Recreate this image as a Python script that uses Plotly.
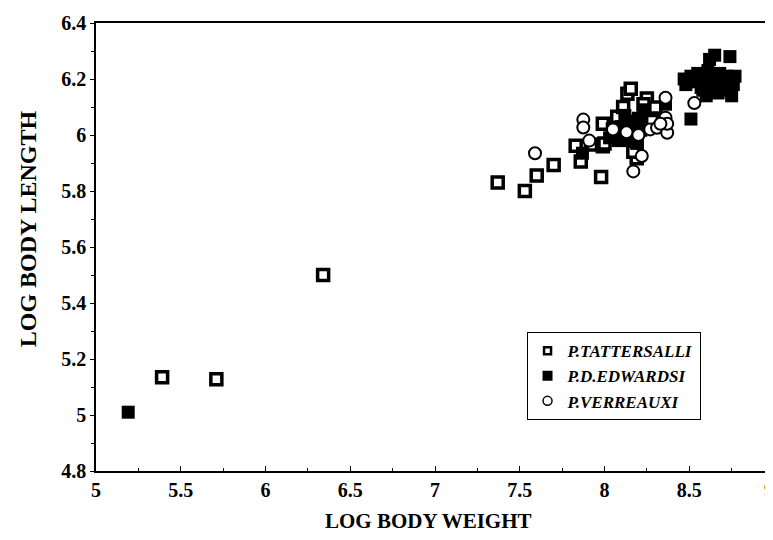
import plotly.graph_objects as go

# P. tattersalli (open squares)
tatt_x = [5.39, 5.71, 6.34, 7.37, 7.53, 7.60, 7.70, 7.83, 7.86, 7.92, 7.99, 7.99, 7.98,
          8.00, 8.075, 8.11, 8.135, 8.155, 8.19, 8.19, 8.21, 8.25, 8.30, 8.23, 8.17, 8.28,
          8.05, 8.10]
tatt_y = [5.135, 5.128, 5.50, 5.83, 5.80, 5.855, 5.893, 5.962, 5.905, 5.966, 5.96, 6.04, 5.85,
          5.97, 6.065, 6.10, 6.147, 6.165, 5.917, 5.96, 6.02, 6.13, 6.098, 6.11, 5.94, 6.05,
          6.02, 5.99]

# P. d. edwardsi (filled squares)
edw_x = [5.19, 7.87, 8.03, 8.06, 8.08, 8.10, 8.12, 8.14, 8.15, 8.17, 8.19, 8.20, 8.22,
         8.23, 8.12, 8.36, 8.51,
         8.47, 8.48, 8.51, 8.53, 8.55, 8.57, 8.59, 8.60, 8.61, 8.62, 8.63, 8.64, 8.65,
         8.66, 8.67, 8.68, 8.70, 8.71, 8.72, 8.74, 8.75, 8.76, 8.77, 8.58]
edw_y = [5.01, 5.935, 5.99, 6.01, 5.98, 6.03, 6.00, 6.05, 5.98, 6.02, 5.97, 6.06, 6.04,
         6.09, 6.07, 6.11, 6.057,
         6.20, 6.18, 6.21, 6.19, 6.22, 6.17, 6.20, 6.14, 6.23, 6.27, 6.16, 6.20, 6.285,
         6.18, 6.15, 6.22, 6.19, 6.16, 6.21, 6.28, 6.14, 6.18, 6.21, 6.16]

# P. verreauxi (open circles)
ver_x = [7.59, 7.875, 7.875, 7.91, 8.17, 8.22, 8.27, 8.31, 8.36, 8.37, 8.37, 8.36, 8.53,
         8.05, 8.13, 8.33, 8.20]
ver_y = [5.935, 6.055, 6.027, 5.98, 5.87, 5.925, 6.02, 6.026, 6.062, 6.008, 6.04, 6.133, 6.114,
         6.02, 6.01, 6.04, 6.0]

series_names = ["P.TATTERSALLI", "P.D.EDWARDSI", "P.VERREAUXI"]

x_ticks = [5, 5.5, 6, 6.5, 7, 7.5, 8, 8.5, 9]
x_ticktext = ["5", "5.5", "6", "6.5", "7", "7.5", "8", "8.5", "9\u00a0\u00a0"]
y_ticks = [4.8, 5, 5.2, 5.4, 5.6, 5.8, 6, 6.2, 6.4]

FONT = "Liberation Serif"

tatt_marker = dict(symbol="square", size=11, color="white", line=dict(color="black", width=3.5))
edw_marker = dict(symbol="square", size=13, color="black", line=dict(color="black", width=0))
ver_marker = dict(symbol="circle", size=12, color="white", line=dict(color="black", width=2))

fig = go.Figure()
fig.add_trace(go.Scatter(x=tatt_x, y=tatt_y, mode="markers", name=series_names[0],
                         marker=tatt_marker, showlegend=False, legendgroup="t"))
fig.add_trace(go.Scatter(x=edw_x, y=edw_y, mode="markers", name=series_names[1],
                         marker=edw_marker, showlegend=False, legendgroup="e"))
fig.add_trace(go.Scatter(x=ver_x, y=ver_y, mode="markers", name=series_names[2],
                         marker=ver_marker, showlegend=False, legendgroup="v"))

# legend entries with smaller symbols, as in the reference key
fig.add_trace(go.Scatter(x=[None], y=[None], mode="markers", name=series_names[0], legendgroup="t",
                         marker=dict(symbol="square", size=7, color="white",
                                     line=dict(color="black", width=2.5))))
fig.add_trace(go.Scatter(x=[None], y=[None], mode="markers", name=series_names[1], legendgroup="e",
                         marker=dict(symbol="square", size=10, color="black")))
fig.add_trace(go.Scatter(x=[None], y=[None], mode="markers", name=series_names[2], legendgroup="v",
                         marker=dict(symbol="circle", size=9, color="white",
                                     line=dict(color="black", width=1.5))))

fig.update_layout(
    width=773, height=540,
    margin=dict(l=88, r=7, t=15, b=77),
    paper_bgcolor="white", plot_bgcolor="white",
    font=dict(family=FONT, color="black"),
    showlegend=True,
    legend=dict(
        x=0.635, y=0.31, xanchor="left", yanchor="top",
        bordercolor="black", borderwidth=1, bgcolor="white",
        font=dict(family=FONT, size=17, color="black", weight="bold", style="italic"),
        itemsizing="trace", itemwidth=30, tracegroupgap=0,
    ),
    xaxis=dict(
        range=[5, 9], tickvals=x_ticks, ticktext=x_ticktext,
        showgrid=False, zeroline=False, showline=True, linecolor="black", linewidth=1.5,
        mirror=True, ticks="inside", ticklen=5, tickcolor="black",
        minor=dict(ticks="inside", ticklen=3, dtick=0.25, tickcolor="black"),
        tickfont=dict(family=FONT, size=20, weight="bold"),
        ticklabeloverflow="allow",
        automargin=False,
    ),
    yaxis=dict(
        range=[4.8, 6.4], tickvals=y_ticks, ticktext=[f"{v:g}" for v in y_ticks],
        showgrid=False, zeroline=False, showline=True, linecolor="black", linewidth=1.5,
        mirror=True, ticks="outside", ticklen=4, tickcolor="black",
        minor=dict(ticks="outside", ticklen=3, dtick=0.1, tickcolor="black"),
        tickfont=dict(family=FONT, size=20, weight="bold"),
        automargin=False,
    ),
    annotations=[
        dict(text="LOG BODY WEIGHT", xref="paper", yref="paper", x=0.49, y=-0.112,
             xanchor="center", yanchor="middle", showarrow=False,
             font=dict(family=FONT, size=21, weight="bold", color="black")),
        dict(text="LOG BODY LENGTH", xref="paper", yref="paper", x=-0.1, y=0.54,
             xanchor="center", yanchor="middle", showarrow=False, textangle=-90,
             font=dict(family=FONT, size=24, weight="bold", color="black")),
    ],
)

fig.write_html("out.html")
